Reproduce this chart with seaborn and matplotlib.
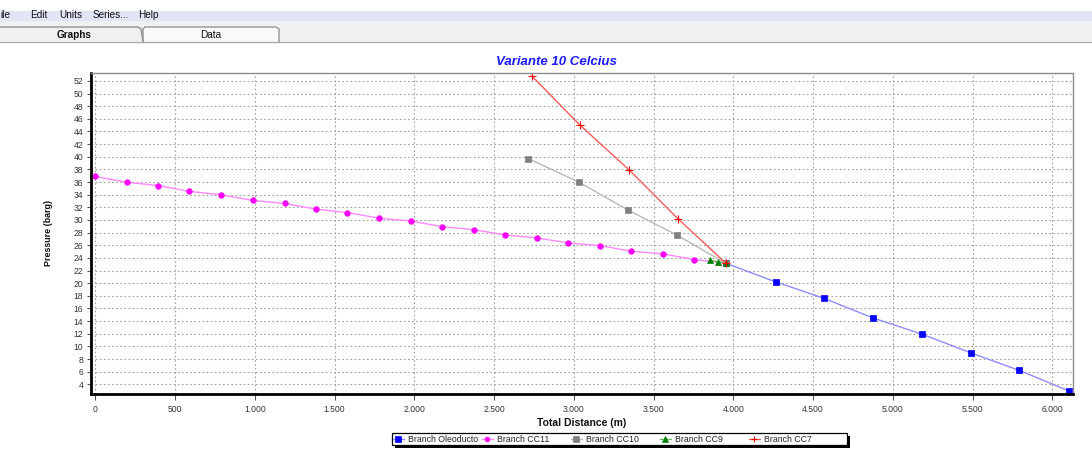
import numpy as np
import pandas as pd
import matplotlib
matplotlib.use("Agg")
import matplotlib.pyplot as plt
import seaborn as sns
from matplotlib.patches import Rectangle
from matplotlib.lines import Line2D
from matplotlib.ticker import MultipleLocator, FuncFormatter

# ---- data ----
oleoducto_x = [3954, 4266, 4569, 4876, 5181, 5492, 5793, 6105]
oleoducto_y = [23.15, 20.2, 17.6, 14.5, 11.95, 8.95, 6.2, 2.95]

cc11_x = [0, 197, 395, 589, 788, 987, 1187, 1382, 1580, 1781, 1977,
          2174, 2372, 2569, 2767, 2966, 3164, 3361, 3561, 3754, 3954]
cc11_y = [36.88, 35.97, 35.44, 34.53, 34.0, 33.09, 32.61, 31.71, 31.17, 30.27, 29.84,
          28.95, 28.47, 27.63, 27.16, 26.37, 25.95, 25.05, 24.63, 23.74, 23.15]

cc10_x = [2715, 3031, 3338, 3647, 3954]
cc10_y = [39.7, 36.0, 31.6, 27.6, 23.15]

cc9_x = [3854, 3906, 3954]
cc9_y = [23.6, 23.4, 23.15]

cc7_x = [2736, 3039, 3348, 3653, 3954]
cc7_y = [52.8, 45.0, 37.9, 30.2, 23.15]

series_names = ["Branch Oleoducto", "Branch CC11", "Branch CC10", "Branch CC9", "Branch CC7"]
title_text = "Variante 10 Celcius"
x_label = "Total Distance (m)"
y_label = "Pressure (barg)"
y_ticks = list(range(4, 53, 2))
x_ticks = list(range(0, 6001, 500))
menu_items = ["ile", "Edit", "Units", "Series...", "Help"]
tab_labels = ["Graphs", "Data"]

# ---- styling ----
sns.set_theme(style="white")
plt.rcParams["font.family"] = ["Liberation Sans", "DejaVu Sans"]

W, H = 1092, 449
fig = plt.figure(figsize=(W / 100, H / 100), dpi=100)
fig.patch.set_facecolor("white")


def fx(px):
    return px / W


def fy(py):
    return 1 - py / H


# window chrome: menu bar and tabs
fig.add_artist(Rectangle((0, fy(21)), 1, fy(11) - fy(21), transform=fig.transFigure,
                         facecolor="#dfe5f4", edgecolor="none", zorder=0))
fig.add_artist(Rectangle((0, fy(41)), 1, fy(21) - fy(41), transform=fig.transFigure,
                         facecolor="#f0f0f0", edgecolor="none", zorder=0))
fig.add_artist(Line2D([0, 1], [fy(41.5), fy(41.5)], transform=fig.transFigure,
                      color="#a8a8a8", lw=1.0))
# Data tab
fig.add_artist(Line2D([fx(143), fx(143), fx(145), fx(276), fx(279), fx(279)],
                      [fy(41.5), fy(29), fy(27), fy(27), fy(29), fy(41.5)],
                      transform=fig.transFigure, color="#8a8a8a", lw=0.9, zorder=2))
fig.add_artist(Rectangle((fx(143), fy(41.5)), fx(279) - fx(143), fy(27) - fy(41.5),
                         transform=fig.transFigure, facecolor="#f9f9f9",
                         edgecolor="none", zorder=1))
# Graphs tab (selected)
fig.add_artist(Line2D([0, fx(138), fx(141), fx(143)], [fy(27), fy(27), fy(29), fy(41.5)],
                      transform=fig.transFigure, color="#8a8a8a", lw=0.9, zorder=2))

menu_pos = [0, 30, 59, 93, 138]
for t, px in zip(menu_items, menu_pos):
    fig.text(fx(px), fy(15.5), t, fontsize=7.2, color="#111111", ha="left", va="center")
fig.text(fx(74), fy(34.5), tab_labels[0], fontsize=7.2, fontweight="bold", color="#111111",
         ha="center", va="center", zorder=3)
fig.text(fx(211), fy(34.5), tab_labels[1], fontsize=7.2, color="#111111",
         ha="center", va="center", zorder=3)

# ---- axes ----
ax = fig.add_axes([fx(91), fy(394.3), fx(1073) - fx(91), fy(72.7) - fy(394.3)])
ax.set_facecolor("white")

line_specs = [
    (oleoducto_x, oleoducto_y, "#8c8cff", "s", "#0000ff", 4.6),
    (cc11_x, cc11_y, "#ff88ff", "o", "#ff00ff", 4.0),
    (cc10_x, cc10_y, "#b8b8b8", "s", "#808080", 4.6),
    (cc9_x, cc9_y, "#6fb86f", "^", "#008000", 4.4),
    (cc7_x, cc7_y, "#ff5a5a", "+", "#ff0000", 5.3),
]

handles = []
for (xs, ys, lc, mk, mc, ms), name in zip(line_specs, series_names):
    df = pd.DataFrame({"x": xs, "y": ys})
    mew = 0.8 if mk == "+" else 0.5
    sns.lineplot(data=df, x="x", y="y", ax=ax, color=lc, lw=1.0, marker=mk,
                 markersize=ms, markerfacecolor=mc, markeredgecolor=mc,
                 markeredgewidth=mew, sort=False, estimator=None, legend=False)
    handles.append(Line2D([], [], color=lc, lw=1.0, marker=mk, markersize=ms * 0.85,
                          markerfacecolor=mc, markeredgecolor=mc,
                          markeredgewidth=mew, label=name))

ax.set_xlim(-27, 6130)
ax.set_ylim(2.42, 53.3)
ax.set_xticks(x_ticks)
ax.xaxis.set_minor_locator(MultipleLocator(125))
ax.set_yticks(y_ticks)
ax.xaxis.set_major_formatter(FuncFormatter(lambda v, p: f"{int(v):,}".replace(",", ".")))

ax.grid(True, which="major", color="#a0a0a0", linestyle=(0, (1.5, 2.2)), lw=0.8)
ax.set_axisbelow(True)

ax.tick_params(axis="both", which="major", labelsize=6.2, labelcolor="#333333",
               length=3, width=0.8, color="#555555", direction="out", pad=2.5)
ax.tick_params(axis="x", which="minor", length=2.5, width=0.7, color="#555555",
               direction="out")
ax.tick_params(axis="x", which="major", length=4, pad=3.5)
ax.tick_params(left=True, bottom=True)

for side in ["left", "bottom"]:
    ax.spines[side].set_color("black")
    ax.spines[side].set_linewidth(2.0)
for side in ["top", "right"]:
    ax.spines[side].set_color("#8c8c8c")
    ax.spines[side].set_linewidth(1.0)

ax.set_xlabel(x_label, fontsize=7.5, fontweight="bold", color="#111111", labelpad=3)
ax.set_ylabel(y_label, fontsize=6.4, fontweight="bold", color="#111111", labelpad=15)

fig.text(fx(556), fy(62), title_text, color="#1a1aff", fontsize=9.5,
         fontweight="bold", style="italic", ha="center", va="center")

# legend: frame with black drop shadow, entries evenly spaced
fig.add_artist(Rectangle((fx(395), fy(448)), fx(850) - fx(395), fy(436) - fy(448),
                         transform=fig.transFigure, facecolor="black",
                         edgecolor="none", zorder=4))
fig.add_artist(Rectangle((fx(392), fy(445)), fx(847) - fx(392), fy(433) - fy(445),
                         transform=fig.transFigure, facecolor="white",
                         edgecolor="black", lw=0.9, zorder=5))
for i, h in enumerate(handles):
    lg = fig.legend(handles=[h], loc="center left",
                    bbox_to_anchor=(fx(393 + 89 * i), fy(439.2)),
                    fontsize=6.3, frameon=False, handlelength=1.2,
                    handletextpad=0.5, borderpad=0, borderaxespad=0)
    lg.set_zorder(6)
    for t in lg.get_texts():
        t.set_color("#222222")

fig.savefig("out.png", dpi=100)
